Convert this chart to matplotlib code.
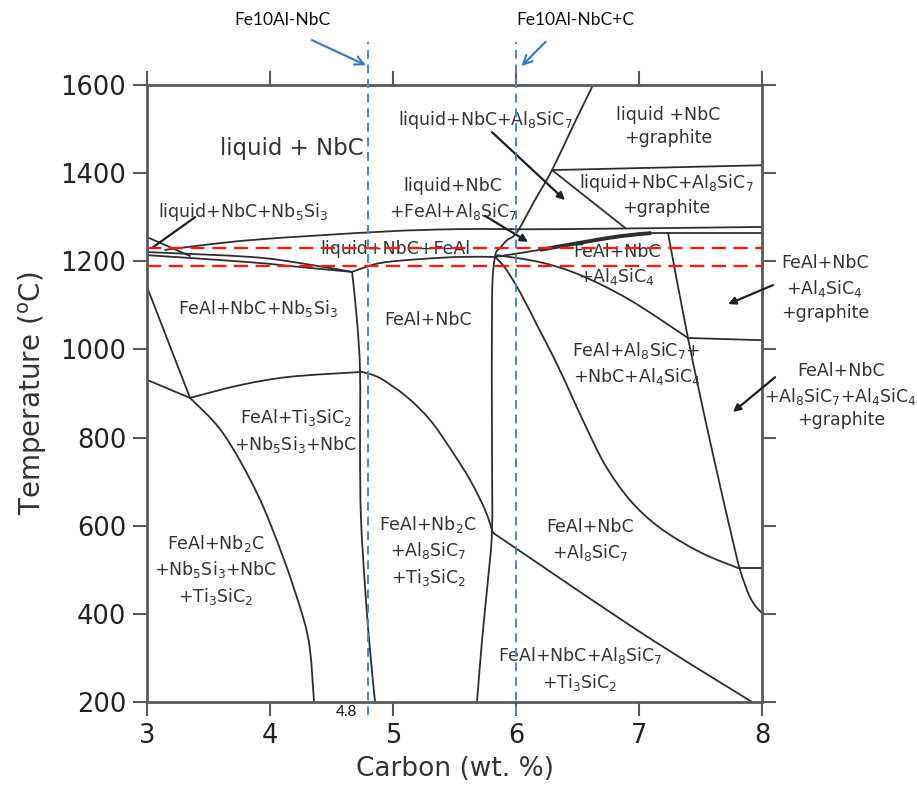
import matplotlib
matplotlib.use("Agg")
import matplotlib.pyplot as plt
from matplotlib.path import Path
from matplotlib.patches import PathPatch

plt.rcParams['font.family'] = ['DejaVu Sans']
plt.rcParams['mathtext.fontset'] = 'dejavusans'

# ---------------- data: phase boundaries (carbon wt.%, temperature C) ----------------
left_spur = [(3.0, 1255), (3.35, 1212)]
liquidus_top = [(3.146, 1226), (3.837, 1248), (4.894, 1267), (5.545, 1273), (6.358, 1273), (8.0, 1278)]
solidus_a = [(3.0, 1221), (3.837, 1210), (4.244, 1196), (4.667, 1176)]
solidus_b = [(3.0, 1214), (3.837, 1198), (4.244, 1187), (4.667, 1176)]
band_bottom = [(4.667, 1176), (4.894, 1196), (5.220, 1205), (5.545, 1210), (5.829, 1210)]
nb5si3_vertical = [(4.667, 1176), (4.707, 1067), (4.732, 949), (4.732, 772), (4.740, 613),
                   (4.780, 431), (4.813, 318), (4.854, 200)]
al8_liquidus = [(6.626, 1600), (6.455, 1502), (6.293, 1407), (6.154, 1339), (6.008, 1266),
                (5.927, 1248), (5.870, 1230), (5.829, 1210), (5.805, 1112), (5.805, 772),
                (5.805, 590), (5.772, 477), (5.724, 341), (5.683, 200)]
graphite_top = [(6.293, 1407), (8.0, 1418)]
graphite_diag = [(6.293, 1407), (6.886, 1276)]
feal_solidus = [(5.829, 1210), (6.195, 1226), (6.520, 1242), (6.846, 1257), (7.033, 1264)]
feal_solidus_right = [(7.033, 1264), (8.0, 1264)]
feal_solidus_thick = [(6.195, 1226), (6.520, 1242), (6.846, 1257), (7.1, 1264)]
graphite_right = [(7.236, 1264), (7.398, 1026), (7.593, 772), (7.780, 545), (7.821, 500),
                  (7.862, 466), (7.902, 438), (7.951, 416), (8.0, 402)]
al4_curve = [(5.829, 1210), (5.911, 1185), (6.033, 1130), (6.171, 1055), (6.317, 976),
             (6.439, 903), (6.561, 829), (6.724, 738), (6.927, 658), (7.171, 595),
             (7.496, 540), (7.805, 504)]
al4_curve_right = [(7.805, 504), (8.0, 504)]
al4_upper = [(5.846, 1214), (6.195, 1198), (6.520, 1169), (6.927, 1112), (7.398, 1026)]
al4_upper_right = [(7.398, 1026), (8.0, 1021)]
ti3_diag = [(5.813, 584), (7.008, 359), (7.919, 200)]
nb2c_top = [(4.748, 949), (4.894, 935), (5.114, 892), (5.301, 840), (5.463, 776),
            (5.626, 704), (5.748, 636), (5.813, 584)]
ti3sic2_top = [(3.350, 890), (3.756, 919), (4.163, 938), (4.748, 949)]
left_lower = [(3.0, 931), (3.350, 890)]
left_upper = [(3.0, 1142), (3.350, 890)]
nb2c_curve = [(3.350, 890), (3.618, 810), (3.894, 674), (4.106, 529), (4.268, 393),
              (4.325, 318), (4.358, 200)]

boundaries = [left_spur, liquidus_top, solidus_a, solidus_b, band_bottom, nb5si3_vertical,
              al8_liquidus, graphite_top, graphite_diag, feal_solidus, feal_solidus_right,
              graphite_right, al4_curve, al4_curve_right, al4_upper, al4_upper_right,
              ti3_diag, nb2c_top, ti3sic2_top, left_lower, left_upper, nb2c_curve]

# composition markers and temperature markers
alloy_carbon = [4.8, 6.0]
alloy_names = ["Fe10Al-NbC", "Fe10Al-NbC+C"]
marker_temps = [1230, 1190]

x_ticks = [3, 4, 5, 6, 7, 8]
y_ticks = [200, 400, 600, 800, 1000, 1200, 1400, 1600]

# region labels: (text, carbon, temperature, size)
region_labels = [
    ("liquid + NbC", 4.18, 1457, 16.5),
    ("liquid+NbC+Nb$_5$Si$_3$", 3.78, 1312, 12.5),
    ("liquid+NbC+Al$_8$SiC$_7$", 5.75, 1521, 12.5),
    ("liquid+NbC\n+FeAl+Al$_8$SiC$_7$", 5.49, 1340, 12.5),
    ("liquid+NbC+FeAl", 5.02, 1228, 12.5),
    ("liquid +NbC\n+graphite", 7.24, 1505, 12.5),
    ("liquid+NbC+Al$_8$SiC$_7$\n+graphite", 7.22, 1352, 12.5),
    ("FeAl+NbC\n+Al$_4$SiC$_4$", 6.82, 1192, 12.5),
    ("FeAl+NbC+Nb$_5$Si$_3$", 3.90, 1094, 12.5),
    ("FeAl+NbC", 5.285, 1067, 12.5),
    ("FeAl+Al$_8$SiC$_7$+\n+NbC+Al$_4$SiC$_4$", 6.98, 968, 12.5),
    ("FeAl+Ti$_3$SiC$_2$\n+Nb$_5$Si$_3$+NbC", 4.21, 815, 12.5),
    ("FeAl+Nb$_2$C\n+Nb$_5$Si$_3$+NbC\n+Ti$_3$SiC$_2$", 3.56, 500, 12.5),
    ("FeAl+Nb$_2$C\n+Al$_8$SiC$_7$\n+Ti$_3$SiC$_2$", 5.285, 543, 12.5),
    ("FeAl+NbC\n+Al$_8$SiC$_7$", 6.60, 566, 12.5),
    ("FeAl+NbC+Al$_8$SiC$_7$\n+Ti$_3$SiC$_2$", 6.52, 275, 12.5),
    ("FeAl+NbC\n+Al$_4$SiC$_4$\n+graphite", 8.51, 1140, 12.5),
    ("FeAl+NbC\n+Al$_8$SiC$_7$+Al$_4$SiC$_4$\n+graphite", 8.64, 895, 12.5),
]

# pointer lines: (start, end, with head)
pointers = [
    ((3.390, 1300), (3.049, 1232), False),
    ((5.805, 1493), (6.398, 1339), True),
    ((5.748, 1303), (6.098, 1244), True),
    ((8.089, 1146), (7.724, 1103), True),
    ((8.106, 937), (7.764, 858), True),
]


def smooth_path(pts):
    """Catmull-Rom curve through the given points, drawn as cubic Bezier segments."""
    n = len(pts)
    if n < 3:
        return Path(pts, [Path.MOVETO] + [Path.LINETO] * (n - 1))
    verts = [pts[0]]
    codes = [Path.MOVETO]
    for i in range(n - 1):
        p0 = pts[i - 1] if i > 0 else pts[i]
        p1 = pts[i]
        p2 = pts[i + 1]
        p3 = pts[i + 2] if i + 2 < n else pts[i + 1]
        c1 = (p1[0] + (p2[0] - p0[0]) / 6.0, p1[1] + (p2[1] - p0[1]) / 6.0)
        c2 = (p2[0] - (p3[0] - p1[0]) / 6.0, p2[1] - (p3[1] - p1[1]) / 6.0)
        verts += [c1, c2, p2]
        codes += [Path.CURVE4] * 3
    return Path(verts, codes)


# ---------------- figure ----------------
fig = plt.figure(figsize=(9.17, 7.91), dpi=100)
ax = fig.add_axes([0.1603, 0.1125, 0.6707, 0.78])
ax.set_xlim(3, 8)
ax.set_ylim(200, 1600)

line_col = '#2e2e2e'
for b in boundaries:
    ax.add_patch(PathPatch(smooth_path(b), fill=False, edgecolor=line_col, lw=1.3,
                           zorder=2, capstyle='round', joinstyle='round'))
ax.add_patch(PathPatch(smooth_path(feal_solidus_thick), fill=False, edgecolor=line_col,
                       lw=2.8, zorder=2))

txt_col = '#333333'
for text, cx, ct, size in region_labels:
    ax.text(cx, ct, text, ha='center', va='center', fontsize=size, color=txt_col,
            linespacing=1.35, zorder=3, clip_on=False)

for (x0, t0), (x1, t1), head in pointers:
    if head:
        ax.annotate("", xy=(x1, t1), xytext=(x0, t0), annotation_clip=False,
                    arrowprops=dict(arrowstyle='-|>', color='#1e1e1e', lw=1.6,
                                    mutation_scale=11, shrinkA=0, shrinkB=0))
    else:
        ax.plot([x0, x1], [t0, t1], color='#1e1e1e', lw=1.6, zorder=3)

# red dashed temperature markers
for t in marker_temps:
    ax.plot([3, 8], [t, t], color='#e8201c', lw=1.7, dashes=(6, 3.2), zorder=4)

# blue dashed composition markers
blue = '#4a84d2'
for c in alloy_carbon:
    ax.plot([c, c], [170, 1698], color=blue, lw=1.4, dashes=(4.5, 3), zorder=4, clip_on=False)

# alloy names and arrows
ax.text(4.10, 1748, alloy_names[0], ha='center', va='center', fontsize=12.5, family='Lato',
        color='#111111')
ax.text(6.48, 1748, alloy_names[1], ha='center', va='center', fontsize=12.5, family='Lato',
        color='#111111')
ax.annotate("", xy=(4.78, 1645), xytext=(4.34, 1702), annotation_clip=False,
            arrowprops=dict(arrowstyle='->', color='#2f78d4', lw=1.5, mutation_scale=16,
                            shrinkA=0, shrinkB=0))
ax.annotate("", xy=(6.045, 1643), xytext=(6.24, 1698), annotation_clip=False,
            arrowprops=dict(arrowstyle='->', color='#2f78d4', lw=1.5, mutation_scale=16,
                            shrinkA=0, shrinkB=0))
ax.text(4.62, 177, "4.8", ha='center', va='center', fontsize=11, family='Lato', color='#111111')

# axes styling
spine_col = '#5a5a5a'
for s in ax.spines.values():
    s.set_color(spine_col)
    s.set_linewidth(2.0)
ax.set_xticks(x_ticks)
ax.set_yticks(y_ticks)
ax.tick_params(axis='both', which='both', direction='out', length=10, width=1.5,
               color=spine_col, labelsize=18.5, labelcolor='#222222', pad=5,
               top=True, right=True, labeltop=False, labelright=False)
ax.set_xlabel("Carbon (wt. %)", fontsize=19, color='#333333', labelpad=5)
ax.set_ylabel("Temperature ($^{\\rm o}$C)", fontsize=20, color='#333333', labelpad=8)

fig.savefig("out.png", dpi=100)
